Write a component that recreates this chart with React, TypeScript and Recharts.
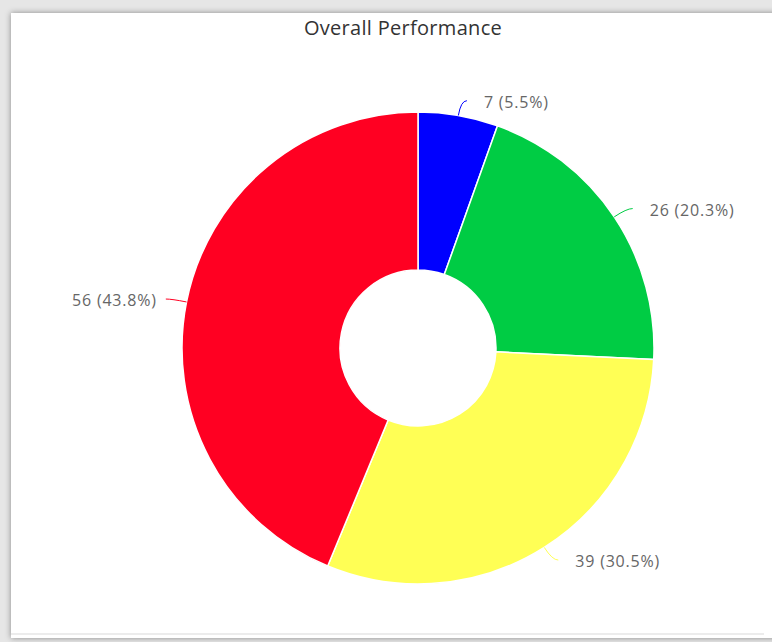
import { Cell, Pie, PieChart } from "recharts"

const names = ["Blue", "Green", "Yellow", "Red"]
const values = [7, 26, 39, 56]
const colors = ["#0000ff", "#00cc44", "#ffff55", "#ff0022"]

const RAD = Math.PI / 180
const total = values.reduce((a, b) => a + b, 0)

const chartData = names.map((name, i) => ({ name, value: values[i] }))

function renderLabel(props: any) {
  const { cx, cy, midAngle, outerRadius, value, index } = props
  const cos = Math.cos(-midAngle * RAD)
  const sin = Math.sin(-midAngle * RAD)
  const sx = cx + outerRadius * cos
  const sy = cy + outerRadius * sin
  const mx = cx + (outerRadius + 15) * cos
  const my = cy + (outerRadius + 15) * sin
  const dir = cos >= 0 ? 1 : -1
  const ex = mx + dir * 6
  const pct = ((value / total) * 100).toFixed(1)
  // left-hand labels sit a little closer to their connector
  const gap = dir > 0 ? 17 : 9
  return (
    <g key={`lbl-${index}`}>
      <path
        d={`M${sx},${sy}Q${mx},${my} ${ex},${my}`}
        stroke={colors[index]}
        fill="none"
        strokeWidth={1}
      />
      <text
        x={ex + dir * gap}
        y={my + 1}
        textAnchor={dir > 0 ? "start" : "end"}
        dominantBaseline="central"
        fill="#666666"
        fontSize={16}
        letterSpacing={0.8}
        fontFamily="'Open Sans', sans-serif"
      >
        {`${value} (${pct}%)`}
      </text>
    </g>
  )
}

export default function App() {
  return (
    <div
      style={{
        position: "absolute",
        left: 0,
        top: 0,
        width: 772,
        height: 642,
        background: "#e6e6e6",
        overflow: "hidden",
      }}
    >
      <div
        style={{
          position: "absolute",
          left: 11,
          top: 13,
          width: 800,
          height: 625,
          background: "#ffffff",
          boxShadow: "0 0 6px rgba(0,0,0,0.4)",
        }}
      />
      <div
        style={{
          position: "absolute",
          left: 11,
          top: 633,
          width: 753,
          height: 2,
          background: "#ececec",
        }}
      />
      <div
        style={{
          position: "absolute",
          left: 0,
          top: 14,
          width: 806,
          textAlign: "center",
          fontFamily: "'Open Sans', sans-serif",
          fontSize: 20,
          letterSpacing: 0.3,
          color: "#333333",
        }}
      >
        Overall Performance
      </div>
      <div style={{ position: "absolute", left: 0, top: 0 }}>
        <PieChart width={772} height={642}>
          <Pie
            data={chartData}
            dataKey="value"
            nameKey="name"
            cx={413}
            cy={343}
            innerRadius={78}
            outerRadius={236}
            startAngle={90}
            endAngle={-270}
            stroke="#ffffff"
            strokeWidth={1.5}
            label={renderLabel}
            labelLine={false}
            isAnimationActive={false}
          >
            {chartData.map((d, i) => (
              <Cell key={d.name} fill={colors[i]} />
            ))}
          </Pie>
        </PieChart>
      </div>
    </div>
  )
}
